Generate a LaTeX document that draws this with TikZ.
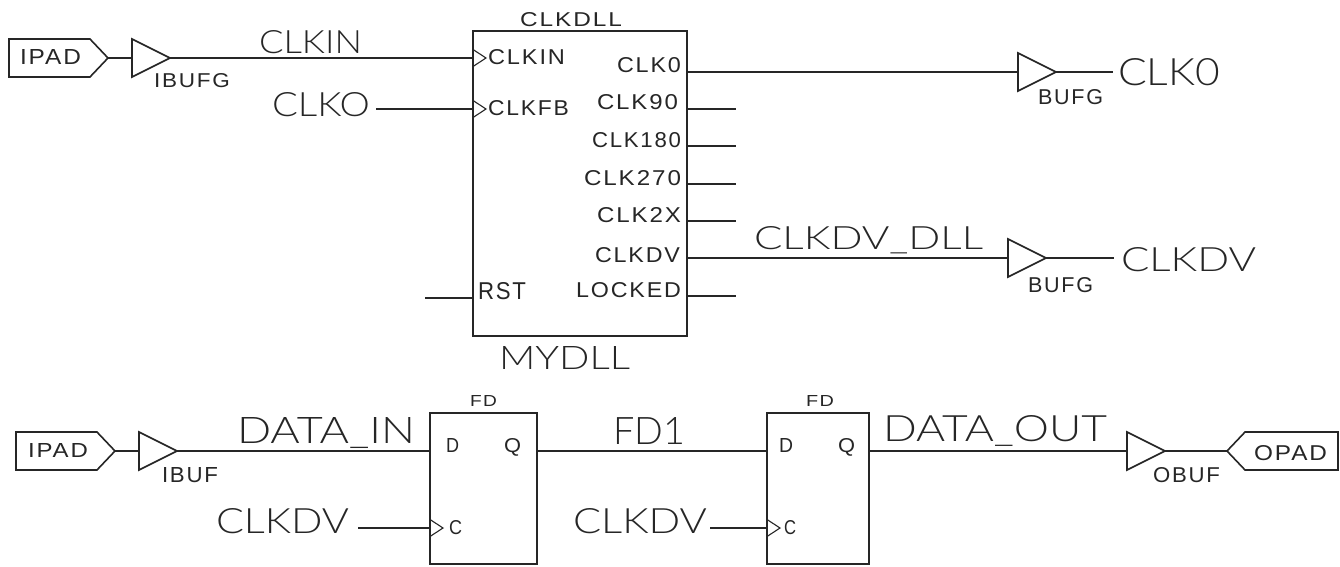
\documentclass[tikz,border=0pt]{standalone}
\usepackage{graphicx}
\usepackage{fontspec}
\setmainfont{Liberation Sans}
\newfontfamily\thinf{Lato}[UprightFont=* Light]
\newfontfamily\pinf{Liberation Sans}[LetterSpace=8]
\usetikzlibrary{shapes.geometric,shapes.symbols}
\newcommand\fitb[3]{\resizebox{#1pt}{#2pt}{\pinf #3}}
\newcommand\fitt[3]{\resizebox{#1pt}{#2pt}{\thinf #3}}
\tikzset{
  txt/.style={inner sep=0pt,outer sep=0pt,anchor=base west,text=black!85},
  wire/.style={draw=black!85,line width=1.7pt},
  blockbox/.style={draw=black!85,line width=1.8pt,rectangle,inner sep=0pt,outer sep=0pt},
  buffer/.style={draw=black!85,line width=1.6pt,isosceles triangle,isosceles triangle stretches,
     minimum height=38pt,minimum width=38pt,inner sep=0pt,outer sep=0pt,anchor=lower side},
  clockpin/.style={draw=black!85,line width=1.1pt,isosceles triangle,isosceles triangle stretches,
     minimum height=13pt,minimum width=17pt,inner sep=0pt,outer sep=0pt,anchor=lower side},
  ipad/.style={draw=black!85,line width=1.6pt,signal,signal to=east,signal pointer angle=93,
     minimum height=38pt,inner sep=0pt,outer sep=0pt,anchor=west},
  opad/.style={draw=black!85,line width=1.6pt,signal,signal to=west,signal pointer angle=93,
     minimum height=38pt,inner sep=0pt,outer sep=0pt,anchor=east},
}
\begin{document}
\begin{tikzpicture}[x=1pt,y=-1pt]
\useasboundingbox[fill=white] (0,0) rectangle (1340,567);
% --- blocks
\node[blockbox,minimum width=214pt,minimum height=305pt] (dll) at (580,183.5) {};
\node[blockbox,minimum width=107pt,minimum height=151pt] (fda) at (483.5,488.5) {};
\node[blockbox,minimum width=102pt,minimum height=151pt] (fdb) at (818,488.5) {};
% --- pads and buffers, upper
\node[ipad,minimum width=99pt] (pad1) at (9,58) {};
\node[buffer] (ibufg) at (132,58) {};
\node[clockpin] (ckin) at (473,58) {};
\node[clockpin] (ckfb) at (473,109) {};
\node[buffer] (bufa) at (1018,72) {};
\node[buffer] (bufb) at (1008,258) {};
% --- pads and buffers, lower
\node[ipad,minimum width=99pt] (pad2) at (16,451) {};
\node[buffer] (ibuf) at (139,451) {};
\node[buffer] (obuf) at (1127,451) {};
\node[opad,minimum width=111pt] (pad3) at (1338,451) {};
\node[clockpin] (ckc1) at (430,528) {};
\node[clockpin] (ckc2) at (767,528) {};
% --- pin coordinates
\coordinate (nfb) at (376,109);
\coordinate (rstin) at (473,298);
\coordinate (rstend) at (425,298);
\coordinate (o0) at (687,72);
\coordinate (o90) at (687,109);
\coordinate (o90e) at (736,109);
\coordinate (o180) at (687,146);
\coordinate (o180e) at (736,146);
\coordinate (o270) at (687,184);
\coordinate (o270e) at (736,184);
\coordinate (o2x) at (687,221);
\coordinate (o2xe) at (736,221);
\coordinate (odv) at (687,258);
\coordinate (olk) at (687,296);
\coordinate (olke) at (736,296);
\coordinate (enda) at (1113,72);
\coordinate (endb) at (1114,258);
\coordinate (da) at (430,451);
\coordinate (qa) at (537,451);
\coordinate (db) at (767,451);
\coordinate (qb) at (869,451);
\coordinate (ca) at (358,528);
\coordinate (cb) at (710,528);
% --- connectors
\draw[wire] (pad1.east) -- (ibufg.lower side);
\draw[wire] (ibufg.apex) -- (ckin.lower side);
\draw[wire] (nfb) -- (ckfb.lower side);
\draw[wire] (rstend) -- (rstin);
\draw[wire] (o0) -- (bufa.lower side);
\draw[wire] (bufa.apex) -- (enda);
\draw[wire] (o90) -- (o90e);
\draw[wire] (o180) -- (o180e);
\draw[wire] (o270) -- (o270e);
\draw[wire] (o2x) -- (o2xe);
\draw[wire] (odv) -- (bufb.lower side);
\draw[wire] (bufb.apex) -- (endb);
\draw[wire] (olk) -- (olke);
\draw[wire] (pad2.east) -- (ibuf.lower side);
\draw[wire] (ibuf.apex) -- (da);
\draw[wire] (qa) -- (db);
\draw[wire] (qb) -- (obuf.lower side);
\draw[wire] (obuf.apex) -- (pad3.west);
\draw[wire] (ca) -- (ckc1.lower side);
\draw[wire] (cb) -- (ckc2.lower side);
% --- large net labels
\node[txt] (t1) at (259,54) {\fitt{103}{23}{CLKIN}};
\node[txt] (t2) at (272,117) {\fitt{98}{24}{CLKO}};
\node[txt] (t3) at (1118,86) {\fitt{102}{27}{CLK0}};
\node[txt] (t4) at (754,249) {\fitt{229}{23}{CLKDV\_DLL}};
\node[txt] (t5) at (1121,271) {\fitt{135}{24}{CLKDV}};
\node[txt] (t6) at (499,369) {\fitt{131}{23}{MYDLL}};
\node[txt] (t7) at (237,443) {\fitt{178}{26}{DATA\_IN}};
\node[txt] (t8) at (613,444) {\fitt{72}{27}{FD1}};
\node[txt] (t9) at (883,441) {\fitt{224}{26}{DATA\_OUT}};
\node[txt] (t10) at (216,533) {\fitt{133}{25}{CLKDV}};
\node[txt] (t11) at (573,533) {\fitt{134}{25}{CLKDV}};
% --- small labels
\node[txt] (s1) at (20,65) {\fitb{61}{15}{IPAD}};
\node[txt] (s2) at (154,88) {\fitb{76}{14}{IBUFG}};
\node[txt] (s3) at (520,27) {\fitb{102}{14}{CLKDLL}};
\node[txt] (s4) at (488,65) {\fitb{77}{15}{CLKIN}};
\node[txt] (s5) at (488,116) {\fitb{81}{15}{CLKFB}};
\node[txt] (s6) at (617,73) {\fitb{64}{15}{CLK0}};
\node[txt] (s7) at (597,110) {\fitb{81}{15}{CLK90}};
\node[txt] (s8) at (592,147) {\fitb{89}{15}{CLK180}};
\node[txt] (s9) at (584,185) {\fitb{97}{15}{CLK270}};
\node[txt] (s10) at (597,222) {\fitb{84}{15}{CLK2X}};
\node[txt] (s11) at (595,262) {\fitb{85}{15}{CLKDV}};
\node[txt] (s12) at (576,297) {\fitb{105}{15}{LOCKED}};
\node[txt] (s13) at (478,299) {\fitb{48}{17}{RST}};
\node[txt] (s14) at (1038,105) {\fitb{65}{15}{BUFG}};
\node[txt] (s15) at (1028,292) {\fitb{65}{15}{BUFG}};
\node[txt] (s16) at (28,457) {\fitb{60}{14}{IPAD}};
\node[txt] (s17) at (162,482) {\fitb{56}{15}{IBUF}};
\node[txt] (s18) at (470,406) {\fitb{27}{11}{FD}};
\node[txt] (s19) at (446,452) {\fitb{13}{14}{D}};
\node[txt] (s20) at (504,452) {\fitb{17}{14}{Q}};
\node[txt] (s21) at (449,534) {\fitb{13}{14}{C}};
\node[txt] (s22) at (806,406) {\fitb{28}{11}{FD}};
\node[txt] (s23) at (779,452) {\fitb{14}{14}{D}};
\node[txt] (s24) at (838,452) {\fitb{17}{14}{Q}};
\node[txt] (s25) at (784,534) {\fitb{12}{14}{C}};
\node[txt] (s26) at (1153,482) {\fitb{67}{15}{OBUF}};
\node[txt] (s27) at (1254,460) {\fitb{73}{15}{OPAD}};
\end{tikzpicture}
\end{document}
